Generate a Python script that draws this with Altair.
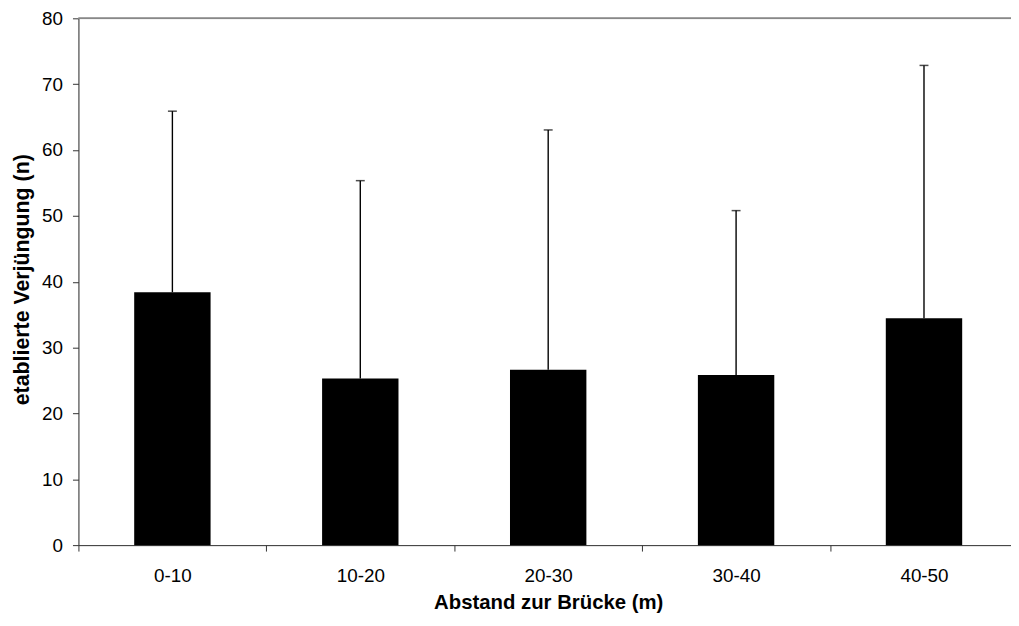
import altair as alt
import pandas as pd

categories = ["0-10", "10-20", "20-30", "30-40", "40-50"]
means = [38.4, 25.3, 26.65, 25.85, 34.45]
uppers = [65.9, 55.35, 63.05, 50.8, 72.85]

df = pd.DataFrame({"cat": categories, "mean": means, "upper": uppers})

FONT = "Liberation Sans"
W = 940
RANGE_W = 947
H = 531

xscale = alt.Scale(domain=categories, range=[0, RANGE_W], paddingInner=0, paddingOuter=0)
yscale = alt.Scale(domain=[0, 80], nice=False, zero=True)

x_enc = alt.X("cat:N", scale=xscale, sort=categories,
              axis=alt.Axis(title="Abstand zur Brücke (m)", labelAngle=0, tickBand="extent",
                            labelFontSize=19, labelFont=FONT, labelColor="black",
                            labelPadding=16, tickSize=6, tickColor="#333", domainColor="#333",
                            titleFont=FONT, titleFontSize=20.5, titleFontWeight="bold",
                            titleColor="black", titlePadding=7, grid=False))
y_enc = alt.Y("mean:Q", scale=yscale,
              axis=alt.Axis(title="etablierte Verjüngung (n)", values=list(range(0, 81, 10)),
                            labelFontSize=19, labelFont=FONT, labelColor="black",
                            labelPadding=10, tickSize=6, tickColor="#333", domainColor="#333",
                            titleFont=FONT, titleFontSize=21.5, titleFontWeight="bold",
                            titleColor="black", titlePadding=8, titleY=263, grid=False))

bars = alt.Chart(df).mark_bar(size=77, color="black").encode(x=x_enc, y=y_enc)

whisk = alt.Chart(df).mark_rule(color="black", strokeWidth=1.4).encode(
    x=alt.X("cat:N", scale=xscale, sort=categories),
    y=alt.Y("mean:Q", scale=yscale),
    y2="upper:Q")

caps = alt.Chart(df).mark_tick(color="black", size=9, thickness=1.5).encode(
    x=alt.X("cat:N", scale=xscale, sort=categories),
    y=alt.Y("upper:Q", scale=yscale))

frame = alt.Chart(df).mark_rule(color="#888", strokeWidth=1.2).encode(
    y=alt.datum(80, scale=yscale), x=alt.value(0), x2=alt.value(RANGE_W))

chart = alt.layer(bars, whisk, caps, frame).properties(
    width=W, height=H,
    autosize=alt.AutoSizeParams(type="none"),
    padding={"left": 71, "top": 8, "right": 0, "bottom": 66},
).configure_view(stroke=None).configure(background="white")

chart.save("out.html", embed_options={"renderer": "svg", "actions": False})
